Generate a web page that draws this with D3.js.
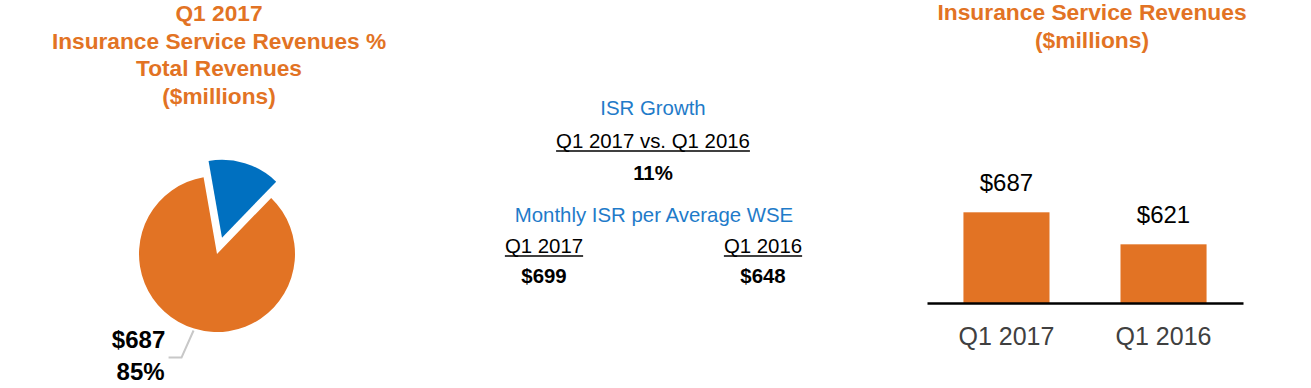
<!DOCTYPE html>
<html>
<head>
<meta charset="utf-8">
<script src="https://cdn.jsdelivr.net/npm/d3@7"></script>
<style>
  body { margin: 0; background: #fff; }
  text { font-family: "Liberation Sans", Arial, sans-serif; }
</style>
</head>
<body>
<script>
// pie data (Q1 2017 revenue split, $millions)
var pieCategories = ["Insurance Service Revenues", "Other Revenues"];
var pieValues = [687, 121];
var pieLabel = ["$687", "85%"];

// bar data
var barCategories = ["Q1 2017", "Q1 2016"];
var barValues = [687, 621];
var barLabels = ["$687", "$621"];

// middle stats
var growthTitle = "ISR Growth";
var growthPeriod = "Q1 2017 vs. Q1 2016";
var growthValue = "11%";
var wseTitle = "Monthly ISR per Average WSE";
var wsePeriods = ["Q1 2017", "Q1 2016"];
var wseValues = ["$699", "$648"];

var leftTitle = ["Q1 2017", "Insurance Service Revenues %", "Total Revenues", "($millions)"];
var rightTitle = ["Insurance Service Revenues", "($millions)"];

var w = 1311, h = 388;
var orange = "#E27324", blue = "#0070C0", textBlue = "#1F7BC9";

var svg = d3.select("body").append("svg")
    .attr("width", w)
    .attr("height", h);

//---- left: pie ----
svg.selectAll("text.ltitle")
    .data(leftTitle)
    .enter()
    .append("text")
    .attr("class", "ltitle")
    .attr("x", 219)
    .attr("y", function(d, i) { return 21 + i * 27.5; })
    .attr("text-anchor", "middle")
    .attr("font-size", "22.7px")
    .attr("font-weight", "bold")
    .attr("fill", orange)
    .text(function(d) { return d; });

var cx = 217, cy = 254, r = 78;
var start = 44 * Math.PI / 180;
var pie = d3.pie().sort(null).startAngle(start).endAngle(start + 2 * Math.PI);
var arcs = pie(pieValues);
var arc = d3.arc().innerRadius(0).outerRadius(r);
var explode = [0, 17];

var pg = svg.append("g").attr("transform", "translate(" + cx + "," + cy + ")");
pg.selectAll("path")
    .data(arcs)
    .enter()
    .append("path")
    .attr("d", arc)
    .attr("fill", function(d, i) { return i == 0 ? orange : blue; })
    .attr("transform", function(d, i) {
        var a = (d.startAngle + d.endAngle) / 2;
        return "translate(" + (Math.sin(a) * explode[i]) + "," + (-Math.cos(a) * explode[i]) + ")";
    });

// leader line for the big slice
var mid = (arcs[0].startAngle + arcs[0].endAngle) / 2;
var p0 = [Math.sin(mid) * (r + 2), -Math.cos(mid) * (r + 2)];
var p1 = [p0[0] - 12, p0[1] + 27];
var p2 = [p1[0] - 13, p1[1]];
pg.append("path")
    .attr("d", d3.line()([p0, p1, p2]))
    .attr("fill", "none")
    .attr("stroke", "#C8C8C8")
    .attr("stroke-width", 2);

pg.selectAll("text.plabel")
    .data(pieLabel)
    .enter()
    .append("text")
    .attr("class", "plabel")
    .attr("x", function(d, i) { return p2[0] - 30 + i * 2; })
    .attr("y", function(d, i) { return p2[1] - 9 + i * 32; })
    .attr("text-anchor", "middle")
    .attr("font-size", "24px")
    .attr("font-weight", "bold")
    .attr("fill", "#000")
    .text(function(d) { return d; });

//---- middle: stats ----
function addText(x, y, t, opts) {
    var el = svg.append("text")
        .attr("x", x).attr("y", y)
        .attr("text-anchor", "middle")
        .attr("font-size", "20.4px")
        .attr("font-weight", opts.bold ? "bold" : "normal")
        .attr("fill", opts.color || "#000")
        .text(t);
    if (opts.underline) {
        var len = el.node().getComputedTextLength();
        svg.append("line")
            .attr("x1", x - len / 2).attr("x2", x + len / 2)
            .attr("y1", y + 3).attr("y2", y + 3)
            .attr("stroke", "#000")
            .attr("stroke-width", 1.5);
    }
    return el;
}
addText(653, 115, growthTitle, { color: textBlue });
addText(653, 148, growthPeriod, { underline: true });
addText(653, 180, growthValue, { bold: true });
addText(654, 222, wseTitle, { color: textBlue });
var colX = [544, 763];
wsePeriods.forEach(function(p, i) { addText(colX[i], 253, p, { underline: true }); });
wseValues.forEach(function(v, i) { addText(colX[i], 283, v, { bold: true }); });

//---- right: bars ----
svg.selectAll("text.rtitle")
    .data(rightTitle)
    .enter()
    .append("text")
    .attr("class", "rtitle")
    .attr("x", 1092)
    .attr("y", function(d, i) { return 20 + i * 28; })
    .attr("text-anchor", "middle")
    .attr("font-size", "22.8px")
    .attr("font-weight", "bold")
    .attr("fill", orange)
    .text(function(d) { return d; });

var xScale = d3.scaleBand()
    .domain(barCategories)
    .range([927, 1243])
    .paddingInner(0.452)
    .paddingOuter(0.232);
var yScale = d3.scaleLinear()
    .domain([500, 900])
    .range([303, 109]);

svg.selectAll("rect.bar")
    .data(barValues)
    .enter()
    .append("rect")
    .attr("class", "bar")
    .attr("x", function(d, i) { return xScale(barCategories[i]); })
    .attr("y", function(d) { return yScale(d); })
    .attr("width", xScale.bandwidth())
    .attr("height", function(d) { return yScale(500) - yScale(d); })
    .attr("fill", orange);

svg.selectAll("text.blabel")
    .data(barValues)
    .enter()
    .append("text")
    .attr("class", "blabel")
    .attr("x", function(d, i) { return xScale(barCategories[i]) + xScale.bandwidth() / 2; })
    .attr("y", function(d) { return yScale(d) - 21; })
    .attr("text-anchor", "middle")
    .attr("font-size", "24px")
    .attr("fill", "#000")
    .text(function(d, i) { return barLabels[i]; });

var xAxis = d3.axisBottom(xScale).tickSize(0).tickPadding(24);
var ax = svg.append("g")
    .attr("transform", "translate(0," + yScale(500) + ")")
    .call(xAxis);
ax.select(".domain").attr("stroke", "#000").attr("stroke-width", 2.5);
ax.selectAll(".tick text")
    .attr("font-size", "25px")
    .attr("font-family", "Liberation Sans, Arial, sans-serif")
    .attr("fill", "#404040");
</script>
</body>
</html>
